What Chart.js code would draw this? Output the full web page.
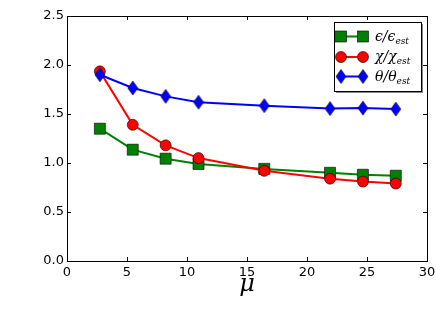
<!DOCTYPE html>
<html>
<head>
<meta charset="utf-8">
<script src="https://cdn.jsdelivr.net/npm/chart.js@4.4.0/dist/chart.umd.min.js"></script>
<style>
  html, body { margin: 0; padding: 0; background: #fff; }
  #wrap { width: 436px; height: 327px; position: relative; }
</style>
</head>
<body>
<div id="wrap"><canvas id="grafico"></canvas></div>
<script>
// valores
const mu = [2.74, 5.48, 8.22, 10.96, 16.44, 21.92, 24.66, 27.4];
const epsRatio = [1.35, 1.136, 1.044, 0.99, 0.94, 0.90, 0.88, 0.87];
const chiRatio = [1.935, 1.39, 1.18, 1.05, 0.92, 0.84, 0.81, 0.79];
const thetaRatio = [1.90, 1.765, 1.68, 1.62, 1.585, 1.555, 1.56, 1.55];
const xTicks = [0, 5, 10, 15, 20, 25, 30];
const yTicks = [0.0, 0.5, 1.0, 1.5, 2.0, 2.5];
const legendLabels = [
  { main: "\u03f5/\u03f5", sub: "est" },
  { main: "\u03c7/\u03c7", sub: "est" },
  { main: "\u03b8/\u03b8", sub: "est" },
];

const VERDE = "#008000";
const VERMELHO = "#ff0000";
const AZUL = "#0000ff";

// losango fino (marcador 'd' do matplotlib)
function losango(w, h) {
  const c = document.createElement("canvas");
  c.width = w + 2;
  c.height = h + 2;
  const g = c.getContext("2d");
  g.beginPath();
  g.moveTo(c.width / 2, 1);
  g.lineTo(c.width - 1, c.height / 2);
  g.lineTo(c.width / 2, c.height - 1);
  g.lineTo(1, c.height / 2);
  g.closePath();
  g.fillStyle = AZUL;
  g.fill();
  g.lineWidth = 0.6;
  g.strokeStyle = "#000";
  g.stroke();
  return c;
}
const marcadorLosango = losango(10, 14);

const pontos = (ys) => mu.map((x, i) => ({ x, y: ys[i] }));

const moldura = {
  id: "moldura",
  afterDatasetsDraw(chart) {
    const { ctx, chartArea: a, scales } = chart;
    ctx.save();
    ctx.strokeStyle = "#000";
    ctx.lineWidth = 1;
    ctx.strokeRect(Math.round(a.left) + 0.5, Math.round(a.top) + 0.5,
      Math.round(a.right - a.left), Math.round(a.bottom - a.top));
    const tl = 4;
    ctx.beginPath();
    xTicks.forEach((v) => {
      const px = Math.round(scales.x.getPixelForValue(v)) + 0.5;
      ctx.moveTo(px, a.bottom);
      ctx.lineTo(px, a.bottom - tl);
      ctx.moveTo(px, a.top);
      ctx.lineTo(px, a.top + tl);
    });
    yTicks.forEach((v) => {
      const py = Math.round(scales.y.getPixelForValue(v)) + 0.5;
      ctx.moveTo(a.left, py);
      ctx.lineTo(a.left + tl, py);
      ctx.moveTo(a.right, py);
      ctx.lineTo(a.right - tl, py);
    });
    ctx.stroke();
    ctx.restore();
  },
};

const legenda = {
  id: "legenda",
  afterDraw(chart) {
    const { ctx } = chart;
    const x0 = 334, y0 = 22, w = 87, h = 69;
    ctx.save();
    ctx.fillStyle = "#888";
    ctx.fillRect(x0 + 2, y0 + 2, w, h);
    ctx.fillStyle = "#fff";
    ctx.fillRect(x0, y0, w, h);
    ctx.strokeStyle = "#000";
    ctx.lineWidth = 1;
    ctx.strokeRect(x0 + 0.5, y0 + 0.5, w, h);

    const cores = [VERDE, VERMELHO, AZUL];
    const linhas = [36.5, 57, 76.5];
    linhas.forEach((yy, i) => {
      ctx.strokeStyle = cores[i];
      ctx.lineWidth = 2;
      ctx.beginPath();
      ctx.moveTo(341, yy);
      ctx.lineTo(363, yy);
      ctx.stroke();
      [341, 363].forEach((mx) => {
        ctx.fillStyle = cores[i];
        ctx.strokeStyle = "#000";
        ctx.lineWidth = 0.6;
        if (i === 0) {
          ctx.fillRect(mx - 5.5, yy - 5.5, 11, 11);
          ctx.strokeRect(mx - 5.5, yy - 5.5, 11, 11);
        } else if (i === 1) {
          ctx.beginPath();
          ctx.arc(mx, yy, 5.5, 0, Math.PI * 2);
          ctx.fill();
          ctx.stroke();
        } else {
          ctx.drawImage(marcadorLosango, mx - marcadorLosango.width / 2,
            yy - marcadorLosango.height / 2);
        }
      });
      ctx.fillStyle = "#000";
      ctx.textBaseline = "alphabetic";
      ctx.font = "italic 14px 'DejaVu Serif'";
      ctx.fillText(legendLabels[i].main, 375, yy + 4);
      const mw = ctx.measureText(legendLabels[i].main).width;
      ctx.font = "italic 9px 'DejaVu Serif'";
      ctx.fillText(legendLabels[i].sub, 375 + mw, yy + 7);
    });
    ctx.restore();
  },
};

const fonteTicks = { family: "'DejaVu Sans'", size: 13 };

new Chart(document.getElementById("grafico"), {
  type: "line",
  data: {
    datasets: [
      {
        label: "eps",
        data: pontos(epsRatio),
        borderColor: VERDE,
        backgroundColor: VERDE,
        pointStyle: "rect",
        pointRadius: 7.8,
        pointBorderColor: "#000",
        pointBorderWidth: 0.6,
        borderWidth: 2,
        order: 3,
      },
      {
        label: "chi",
        data: pontos(chiRatio),
        borderColor: VERMELHO,
        backgroundColor: VERMELHO,
        pointStyle: "circle",
        pointRadius: 5.5,
        pointBorderColor: "#000",
        pointBorderWidth: 0.6,
        borderWidth: 2,
        order: 2,
      },
      {
        label: "theta",
        data: pontos(thetaRatio),
        borderColor: AZUL,
        backgroundColor: AZUL,
        pointStyle: marcadorLosango,
        borderWidth: 2,
        order: 1,
      },
    ],
  },
  options: {
    responsive: true,
    maintainAspectRatio: false,
    animation: false,
    layout: { padding: { left: 0, right: 9, top: 16, bottom: 0 } },
    scales: {
      x: {
        type: "linear",
        min: 0,
        max: 30,
        afterBuildTicks: (s) => { s.ticks = xTicks.map((v) => ({ value: v })); },
        afterFit: (s) => {
          s.height = 66;
          s.paddingLeft = 0;
          s.paddingRight = 0;
        },
        grid: { display: false, drawTicks: false },
        border: { display: false },
        ticks: { color: "#000", font: fonteTicks, padding: 4, maxRotation: 0 },
        title: {
          display: true,
          text: "\u03bc",
          color: "#000",
          font: { family: "'DejaVu Serif'", size: 24, style: "italic" },
          padding: { top: 0, bottom: 28 },
        },
      },
      y: {
        min: 0,
        max: 2.5,
        afterBuildTicks: (s) => { s.ticks = yTicks.map((v) => ({ value: v })); },
        afterFit: (s) => {
          s.width = 67;
          s.paddingTop = 0;
          s.paddingBottom = 0;
        },
        grid: { display: false, drawTicks: false },
        border: { display: false },
        ticks: {
          color: "#000",
          font: fonteTicks,
          padding: 3,
          callback: (v) => v.toFixed(1),
        },
      },
    },
    plugins: {
      legend: { display: false },
      tooltip: { enabled: false },
    },
  },
  plugins: [moldura, legenda],
});
</script>
</body>
</html>
